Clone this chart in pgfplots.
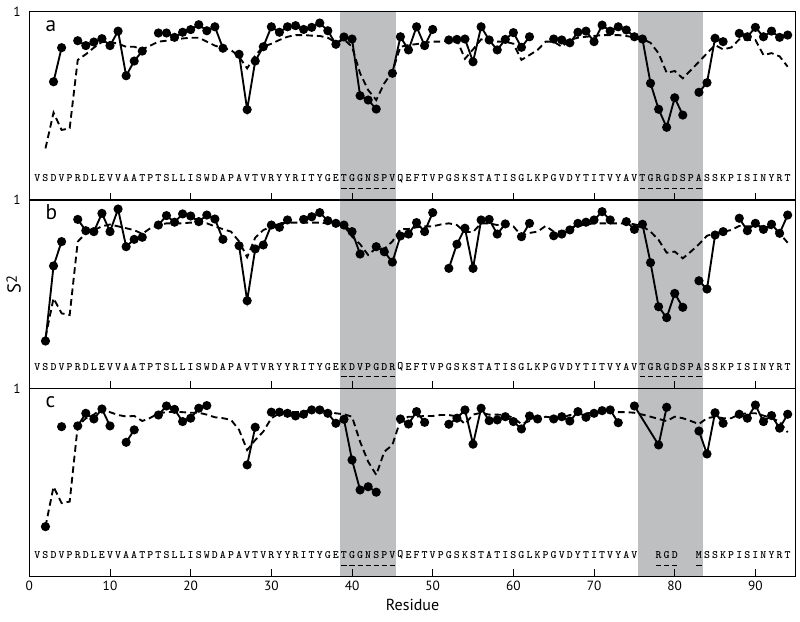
\documentclass[border=0pt]{standalone}
\usepackage{fontspec}
\setmainfont{PT Sans}
\usepackage{pgfplots}
\pgfplotsset{compat=1.18}
\usepgfplotslibrary{groupplots}

\definecolor{bandgray}{RGB}{190,191,193}
\newcommand{\seqfont}{\fontsize{8.5}{9}\selectfont\ttfamily\bfseries}

\pgfplotsset{
  s2panel/.style={
    scale only axis, width=574.8pt, height=141.2pt,
    xmin=0, xmax=95, ymin=0, ymax=1,
    xtick={0,10,...,90}, xtick pos=lower, major tick length=5.6pt,
    ytick={1}, ytick style={draw=none},
    yticklabel style={xshift=-3pt},
    tick label style={font=\fontsize{10}{12}\selectfont},
    /pgf/number format/assume math mode=true,
    axis on top, axis line style={line width=0.8pt},
    tick style={black, line width=0.7pt},
    unbounded coords=jump, clip mode=individual,
  },
  fitline/.style={black, line width=1.4pt, mark=*, mark size=2.7pt},
  predline/.style={black, line width=1.4pt, dash pattern=on 5pt off 3pt},
}
\tikzset{seqtxt/.style={font=\seqfont, inner sep=0pt}}

% sequence letters, one per residue
\newcommand{\seqrow}[1]{%
  \foreach \l [count=\i] in {#1} {%
    \edef\tmp{\noexpand\node[seqtxt] at (axis cs:\i,0.115) {\l};}\tmp}}
% dashed underline below residues
\newcommand{\uline}[2]{%
  \foreach \i in {#1,...,#2} {%
    \pgfmathsetmacro\ua{\i-0.32}\pgfmathsetmacro\ub{\i+0.32}%
    \edef\tmp{\noexpand\draw[line width=0.5pt] (axis cs:\ua,0.062) -- (axis cs:\ub,0.062);}\tmp}}
\newcommand{\band}[2]{\fill[bandgray] (axis cs:#1,0) rectangle (axis cs:#2,1);}
\newcommand{\plabel}[1]{\node[anchor=base west, font=\fontsize{16}{17}\selectfont, inner sep=0pt]
  at (rel axis cs:0,1) [xshift=12pt, yshift=-14.5pt] {#1};}

\begin{document}
\begin{tikzpicture}
\begin{groupplot}[
  group style={group size=1 by 3, vertical sep=0pt, xticklabels at=edge bottom},
  s2panel,
]

% ---------------- a
\nextgroupplot
\coordinate (TL) at (rel axis cs:0,1);
\band{38.5}{45.5}
\band{75.5}{83.5}
\addplot[predline] coordinates {
(2,0.274) (3,0.464) (4,0.372) (5,0.381) (6,0.744) (7,0.774) (8,0.809) (9,0.84) (10,0.84)
(11,0.83) (12,0.814) (13,0.814) (14,0.80) (15,0.82) (16,0.841) (17,0.846) (18,0.853) (19,0.858)
(20,0.862) (21,0.862) (22,0.841) (23,0.820) (24,0.806) (25,0.797) (26,0.761) (27,0.699) (28,0.768)
(29,0.814) (30,0.83) (31,0.85) (32,0.867) (33,0.876) (34,0.876) (35,0.873) (36,0.871) (37,0.862)
(38,0.835) (39,0.853) (40,0.814) (41,0.673) (42,0.584) (43,0.531) (44,0.620) (45,0.681) (46,0.814)
(47,0.823) (48,0.828) (49,0.835) (50,0.841) (51,0.841) (52,0.846) (53,0.850) (54,0.75) (55,0.80)
(56,0.853) (57,0.85) (58,0.841) (59,0.841) (60,0.83) (61,0.744) (62,0.77) (63,0.797) (64,0.841)
(65,0.841) (66,0.814) (67,0.85) (68,0.862) (69,0.867) (70,0.871) (71,0.876) (72,0.876) (73,0.876)
(74,0.871) (75,0.864) (76,0.855) (77,0.835) (78,0.779) (79,0.676) (80,0.685) (81,0.646) (82,0.69)
(83,0.734) (84,0.779) (85,0.823) (86,0.80) (87,0.81) (88,0.853) (89,0.85) (90,0.85) (91,0.77)
(92,0.78) (93,0.763) (94,0.708)};
\addplot[fitline] coordinates {
(3,0.628) (4,0.809) (5,nan) (6,0.846) (7,0.820) (8,0.839) (9,0.857) (10,0.820) (11,0.897)
(12,0.660) (13,0.738) (14,0.791) (15,nan) (16,0.887) (17,0.887) (18,0.864) (19,0.891) (20,0.905)
(21,0.931) (22,0.899) (23,0.920) (24,0.806) (25,nan) (26,0.774) (27,0.480) (28,0.738) (29,0.814)
(30,0.920) (31,0.891) (32,0.920) (33,0.926) (34,0.906) (35,0.917) (36,0.940) (37,0.899) (38,0.827)
(39,0.866) (40,0.855) (41,0.554) (42,0.531) (43,0.483) (44,nan) (45,0.673) (46,0.867) (47,0.797)
(48,0.920) (49,0.820) (50,0.906) (51,nan) (52,0.850) (53,0.853) (54,0.855) (55,0.734) (56,0.920)
(57,0.850) (58,0.797) (59,0.853) (60,0.889) (61,0.811) (62,0.867) (63,nan) (65,0.855) (66,0.850)
(67,0.835) (68,0.891) (69,0.897) (70,0.841) (71,0.929) (72,0.897) (73,0.920) (74,0.903) (75,0.867)
(76,0.855) (77,0.620) (78,0.482) (79,0.386) (80,0.543) (81,0.451) (82,nan) (83,0.572) (84,0.623)
(85,0.859) (86,0.841) (87,nan) (88,0.885) (89,0.867) (90,0.917) (91,0.867) (92,0.897) (93,0.864)
(94,0.876)};
\seqrow{V,S,D,V,P,R,D,L,E,V,V,A,A,T,P,T,S,L,L,I,S,W,D,A,P,A,V,T,V,R,Y,Y,R,I,T,Y,G,E,T,G,G,N,S,P,V,Q,E,F,T,V,P,G,S,K,S,T,A,T,I,S,G,L,K,P,G,V,D,Y,T,I,T,V,Y,A,V,T,G,R,G,D,S,P,A,S,S,K,P,I,S,I,N,Y,R,T}
\uline{39}{45}
\uline{76}{83}
\plabel{a}

% ---------------- b
\nextgroupplot
\node[font=\fontsize{14}{15}\selectfont, inner sep=0pt] at (rel axis cs:0,0.55) [xshift=-11.7pt, rotate=90]
  {S\raisebox{0.2em}{\fontsize{11}{11}\selectfont 2}};
\band{38.5}{45.5}
\band{75.5}{83.5}
\addplot[predline] coordinates {
(2,0.27) (3,0.478) (4,0.398) (5,0.389) (6,0.779) (7,0.823) (8,0.84) (9,0.86) (10,0.87) (11,0.86)
(12,0.85) (13,0.84) (14,0.82) (15,0.85) (16,0.867) (17,0.876) (18,0.876) (19,0.876) (20,0.88)
(21,0.876) (22,0.876) (23,0.86) (24,0.845) (25,0.832) (26,0.78) (27,0.696) (28,0.80) (29,0.84)
(30,0.86) (31,0.876) (32,0.88) (33,0.88) (34,0.88) (35,0.88) (36,0.88) (37,0.876) (38,0.873)
(39,0.862) (40,0.806) (41,0.765) (42,0.708) (43,0.745) (44,0.74) (45,0.78) (46,0.845) (47,0.846)
(48,0.855) (49,0.86) (50,0.86) (51,0.87) (52,0.876) (53,0.867) (54,0.83) (55,0.83) (56,0.876)
(57,0.876) (58,0.867) (59,0.867) (60,0.86) (61,0.81) (62,0.825) (63,0.832) (64,0.862) (65,0.832)
(66,0.832) (67,0.85) (68,0.862) (69,0.87) (70,0.876) (71,0.876) (72,0.876) (73,0.876) (74,0.876)
(75,0.871) (76,0.86) (77,0.832) (78,0.788) (79,0.72) (80,0.726) (81,0.69) (82,0.726) (83,0.765)
(84,0.81) (85,0.823) (86,0.832) (87,0.84) (88,0.862) (89,0.86) (90,0.862) (91,0.86) (92,0.85)
(93,0.823) (94,0.773)};
\addplot[fitline] coordinates {
(2,0.251) (3,0.650) (4,0.779) (5,nan) (6,0.897) (7,0.837) (8,0.832) (9,0.929) (10,0.832)
(11,0.952) (12,0.752) (13,0.791) (14,0.802) (15,nan) (16,0.867) (17,0.917) (18,0.882) (19,0.926)
(20,0.915) (21,0.885) (22,0.920) (23,0.899) (24,0.791) (25,nan) (26,0.757) (27,0.465) (28,0.740)
(29,0.761) (30,0.867) (31,0.855) (32,0.894) (33,nan) (34,0.897) (35,0.911) (36,0.933) (37,0.890)
(38,0.876) (39,0.867) (40,0.832) (41,0.713) (42,nan) (43,0.752) (44,0.725) (45,0.670) (46,0.809)
(47,0.819) (48,0.880) (49,0.832) (50,0.933) (51,nan) (52,0.637) (53,0.765) (54,0.850) (55,0.637)
(56,0.894) (57,0.897) (58,0.819) (59,0.873) (60,nan) (61,0.805) (62,0.876) (63,nan) (65,0.810)
(66,0.819) (67,0.841) (68,0.876) (69,0.882) (70,0.894) (71,0.938) (72,0.894) (73,nan) (74,0.885)
(75,0.844) (76,0.871) (77,0.667) (78,0.433) (79,0.375) (80,0.504) (81,0.430) (82,nan) (83,0.571)
(84,0.527) (85,0.814) (86,0.832) (87,nan) (88,0.903) (89,0.837) (90,0.876) (91,0.844) (92,0.871)
(93,0.823) (94,0.920)};
\seqrow{V,S,D,V,P,R,D,L,E,V,V,A,A,T,P,T,S,L,L,I,S,W,D,A,P,A,V,T,V,R,Y,Y,R,I,T,Y,G,E,K,D,V,P,G,D,R,Q,E,F,T,V,P,G,S,K,S,T,A,T,I,S,G,L,K,P,G,V,D,Y,T,I,T,V,Y,A,V,T,G,R,G,D,S,P,A,S,S,K,P,I,S,I,N,Y,R,T}
\uline{39}{45}
\uline{76}{83}
\plabel{b}

% ---------------- c
\nextgroupplot[xlabel={Residue}, xlabel style={font=\fontsize{12}{14}\selectfont, yshift=1pt}]
\coordinate (BR) at (rel axis cs:1,0);
\band{38.5}{45.5}
\band{75.5}{83.5}
\addplot[predline] coordinates {
(2,0.265) (3,0.477) (4,0.39) (5,0.398) (6,0.80) (7,0.84) (8,0.86) (9,0.894) (10,0.873) (11,0.858)
(12,0.85) (13,0.853) (14,0.826) (15,0.843) (16,0.867) (17,0.873) (18,0.876) (19,0.873) (20,0.870)
(21,0.870) (22,0.86) (23,0.846) (24,0.841) (25,0.832) (26,0.779) (27,0.672) (28,0.725) (29,0.77)
(30,0.841) (31,0.867) (32,0.873) (33,0.873) (34,0.876) (35,0.885) (36,0.885) (37,0.876) (38,0.867)
(39,0.862) (40,0.849) (41,0.716) (42,0.610) (43,0.540) (44,0.663) (45,0.699) (46,0.83) (47,0.849)
(48,0.849) (49,0.853) (50,0.853) (51,0.858) (52,0.858) (53,0.85) (54,0.81) (55,0.86) (56,0.87)
(57,0.86) (58,0.86) (59,0.858) (60,0.843) (61,0.81) (62,0.826) (63,0.83) (64,0.849) (65,0.843)
(66,0.843) (67,0.858) (68,0.862) (69,0.867) (70,0.87) (71,0.87) (72,0.873) (73,0.873) (74,0.873)
(75,0.87) (76,0.86) (77,0.849) (78,0.837) (79,0.826) (80,0.849) (81,0.841) (82,0.826) (83,0.81)
(84,0.841) (85,0.849) (86,0.841) (87,0.841) (88,0.862) (89,0.867) (90,0.867) (91,0.855) (92,0.841)
(93,0.823) (94,0.766)};
\addplot[fitline] coordinates {
(2,0.265) (3,nan) (4,0.796) (5,nan) (6,0.800) (7,0.867) (8,0.837) (9,0.890) (10,0.800) (11,nan)
(12,0.713) (13,0.779) (14,nan) (16,0.858) (17,0.906) (18,0.888) (19,0.823) (20,0.841) (21,0.894)
(22,0.908) (23,nan) (27,0.593) (28,0.793) (29,nan) (30,0.873) (31,0.873) (32,0.867) (33,0.853)
(34,0.862) (35,0.885) (36,0.885) (37,0.867) (38,0.814) (39,0.835) (40,0.619) (41,0.460) (42,0.477)
(43,0.448) (44,nan) (46,0.837) (47,0.810) (48,0.876) (49,0.819) (50,nan) (52,0.809) (53,0.841)
(54,0.885) (55,0.703) (56,0.894) (57,0.828) (58,0.832) (59,0.849) (60,0.823) (61,0.784) (62,0.853)
(63,0.837) (64,nan) (65,0.837) (66,0.849) (67,0.826) (68,0.876) (69,0.846) (70,0.867) (71,0.881)
(72,0.885) (73,0.817) (74,nan) (75,0.906) (78,0.699) (79,0.899) (80,nan) (83,0.773) (84,0.651)
(85,0.870) (86,0.814) (87,nan) (88,0.862) (89,0.841) (90,0.911) (91,0.823) (92,0.855) (93,0.788)
(94,0.862)};
\seqrow{V,S,D,V,P,R,D,L,E,V,V,A,A,T,P,T,S,L,L,I,S,W,D,A,P,A,V,T,V,R,Y,Y,R,I,T,Y,G,E,T,G,G,N,S,P,V,Q,E,F,T,V,P,G,S,K,S,T,A,T,I,S,G,L,K,P,G,V,D,Y,T,I,T,V,Y,A,V,{},{},R,G,D,{},{},M,S,S,K,P,I,S,I,N,Y,R,T}
\uline{39}{45}
\uline{78}{80}
\uline{83}{83}
\plabel{c}
\end{groupplot}
\pgfresetboundingbox
\path[use as bounding box] ([xshift=-22pt,yshift=8.8pt]TL) rectangle ([xshift=3.2pt,yshift=-34pt]BR);
\end{tikzpicture}
\end{document}
